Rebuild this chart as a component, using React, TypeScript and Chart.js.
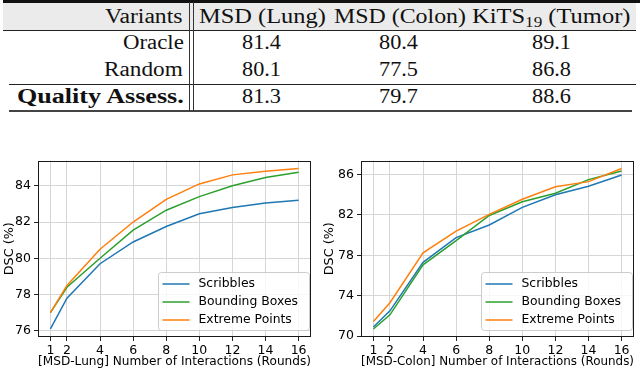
import React, { useEffect, useLayoutEffect, useRef } from 'react';
import { Chart, registerables } from 'chart.js';

Chart.register(...registerables);

// ---------- data ----------
const rounds = [1, 2, 4, 6, 8, 10, 12, 14, 16];
const xTicks = [1, 2, 4, 6, 8, 10, 12, 14, 16];
const seriesLabels = ['Scribbles', 'Bounding Boxes', 'Extreme Points'];
const seriesColors = ['#1f77b4', '#2ca02c', '#ff7f0e'];

const lungScribbles = [76.1, 77.8, 79.7, 80.9, 81.75, 82.45, 82.8, 83.05, 83.2];
const lungBoxes = [77.0, 78.4, 80.0, 81.55, 82.65, 83.4, 84.0, 84.45, 84.75];
const lungExtreme = [77.0, 78.5, 80.5, 82.0, 83.25, 84.1, 84.6, 84.8, 84.95];
const lungYTicks = [76, 78, 80, 82, 84];

const colonScribbles = [70.9, 72.5, 77.3, 79.75, 81.0, 82.75, 84.0, 84.85, 85.95];
const colonBoxes = [70.7, 72.1, 77.05, 79.45, 81.95, 83.3, 84.15, 85.5, 86.35];
const colonExtreme = [71.45, 73.3, 78.25, 80.4, 82.05, 83.55, 84.8, 85.3, 86.6];
const colonYTicks = [70, 74, 78, 82, 86];

const yTitle = 'DSC (%)';
const lungXTitle = '[MSD-Lung] Number of Interactions (Rounds)';
const colonXTitle = '[MSD-Colon] Number of Interactions (Rounds)';

const tableCorner = 'Variants';
const tableVariants = ['Oracle', 'Random', 'Quality Assess.'];
const oracleRow = [81.4, 80.4, 89.1];
const randomRow = [80.1, 77.5, 86.8];
const qualityRow = [81.3, 79.7, 88.6];

// ---------- helpers ----------
const SERIF = '"Liberation Serif", "Times New Roman", serif';
const SANS = '"DejaVu Sans", sans-serif';
const GRID = '#d6d6d6';
const TICK_SIZE = 12.5;
const TITLE_SIZE = 12.75;
const LEGEND_SIZE = 12.4;

function paddedRange(values: number[]) {
  const lo = Math.min(...values);
  const hi = Math.max(...values);
  const m = (hi - lo) * 0.05;
  return [lo - m, hi + m];
}

const framePlugin = {
  id: 'frame',
  afterDatasetsDraw(chart: any) {
    const { ctx, chartArea: a } = chart;
    const l = Math.round(a.left), t = Math.round(a.top);
    const r = Math.round(a.right), b = Math.round(a.bottom);
    ctx.save();
    ctx.strokeStyle = '#1a1a1a';
    ctx.lineWidth = 1;
    ctx.strokeRect(l + 0.5, t + 0.5, r - l - 1, b - t - 1);
    ctx.restore();
  },
};

const legendPlugin = {
  id: 'insideLegend',
  afterDraw(chart: any) {
    const { ctx, chartArea: a } = chart;
    const w = 151, h = 58;
    const x = a.right - 1.5 - w;
    const y = a.bottom - 6.5 - h;
    ctx.save();
    ctx.beginPath();
    const rad = 3;
    ctx.moveTo(x + rad, y);
    ctx.lineTo(x + w - rad, y);
    ctx.arcTo(x + w, y, x + w, y + rad, rad);
    ctx.lineTo(x + w, y + h - rad);
    ctx.arcTo(x + w, y + h, x + w - rad, y + h, rad);
    ctx.lineTo(x + rad, y + h);
    ctx.arcTo(x, y + h, x, y + h - rad, rad);
    ctx.lineTo(x, y + rad);
    ctx.arcTo(x, y, x + rad, y, rad);
    ctx.closePath();
    ctx.fillStyle = 'rgba(255,255,255,0.8)';
    ctx.fill();
    ctx.strokeStyle = '#cccccc';
    ctx.lineWidth = 1;
    ctx.stroke();
    chart.data.datasets.forEach((ds: any, i: number) => {
      const cy = y + 11.5 + i * 18;
      ctx.beginPath();
      ctx.strokeStyle = ds.borderColor;
      ctx.lineWidth = 1.5;
      ctx.moveTo(x + 4, cy);
      ctx.lineTo(x + 31, cy);
      ctx.stroke();
      ctx.fillStyle = '#000';
      ctx.font = `${LEGEND_SIZE}px ${SANS}`;
      ctx.textBaseline = 'middle';
      ctx.textAlign = 'left';
      ctx.fillText(ds.label, x + 40, cy);
    });
    ctx.restore();
  },
};

type Geom = { yW: number; padR: number; padT: number; xH: number };

function buildChart(
  canvas: HTMLCanvasElement,
  series: number[][],
  yTicks: number[],
  xTitle: string,
  g: Geom
) {
  const [xMin, xMax] = paddedRange(rounds);
  const [yMin, yMax] = paddedRange(series.flat());
  return new Chart(canvas, {
    type: 'line',
    data: {
      datasets: seriesLabels.map((label, i) => ({
        label,
        data: rounds.map((r, j) => ({ x: r, y: series[i][j] })),
        borderColor: seriesColors[i],
        backgroundColor: seriesColors[i],
        borderWidth: 1.5,
        pointRadius: 0,
        tension: 0,
        fill: false,
        order: 2 - i,
      })),
    },
    options: {
      responsive: false,
      animation: false,
      devicePixelRatio: 1,
      layout: { padding: { left: 0, right: g.padR, top: g.padT, bottom: 0 } },
      plugins: {
        legend: { display: false },
        tooltip: { enabled: false },
      },
      scales: {
        x: {
          type: 'linear',
          min: xMin,
          max: xMax,
          afterBuildTicks: (s: any) => {
            s.ticks = xTicks.map((v) => ({ value: v }));
          },
          afterFit: (s: any) => {
            s.height = g.xH;
          },
          grid: { color: GRID, lineWidth: 1, tickLength: 4, tickColor: '#222' },
          border: { display: false },
          ticks: {
            color: '#000',
            font: { family: SANS, size: TICK_SIZE },
            padding: 2,
            maxRotation: 0,
            autoSkip: false,
            callback: (v: any) => String(v),
          },
          title: {
            display: true,
            text: xTitle,
            color: '#000',
            font: { family: SANS, size: TITLE_SIZE },
            padding: { top: 2, bottom: 4 },
          },
        },
        y: {
          type: 'linear',
          min: yMin,
          max: yMax,
          afterBuildTicks: (s: any) => {
            s.ticks = yTicks.map((v) => ({ value: v }));
          },
          afterFit: (s: any) => {
            s.width = g.yW;
          },
          grid: { color: GRID, lineWidth: 1, tickLength: 4, tickColor: '#222' },
          border: { display: false },
          ticks: {
            color: '#000',
            font: { family: SANS, size: TICK_SIZE },
            padding: 3,
            callback: (v: any) => String(v),
          },
          title: {
            display: true,
            text: yTitle,
            color: '#000',
            font: { family: SANS, size: TITLE_SIZE },
            padding: { top: 2.5, bottom: 3 },
          },
        },
      },
    } as any,
    plugins: [framePlugin, legendPlugin],
  });
}

function FitText(props: {
  left: number;
  width: number;
  baseline: number;
  size?: number;
  bold?: boolean;
  children: React.ReactNode;
}) {
  const ref = useRef<HTMLDivElement>(null);
  const size = props.size ?? 20;
  useLayoutEffect(() => {
    const el = ref.current;
    if (!el) return;
    el.style.transform = 'none';
    const w = el.offsetWidth;
    if (w > 0) el.style.transform = `scaleX(${props.width / w})`;
  });
  return (
    <div
      ref={ref}
      style={{
        position: 'absolute',
        left: props.left,
        top: props.baseline - 0.8375 * size,
        fontFamily: SERIF,
        fontSize: size,
        lineHeight: `${size}px`,
        fontWeight: props.bold ? 700 : 400,
        whiteSpace: 'nowrap',
        transformOrigin: 'left top',
        color: '#111',
      }}
    >
      {props.children}
    </div>
  );
}

function Rule(props: { x: number; y: number; w: number; h: number; color?: string }) {
  return (
    <div
      style={{
        position: 'absolute',
        left: props.x,
        top: props.y,
        width: props.w,
        height: props.h,
        background: props.color ?? '#111',
      }}
    />
  );
}

const colCenters = [261.5, 398, 551.5];
const rowBaselines = [49, 75.5, 103];
const tableRows = [oracleRow, randomRow, qualityRow];

function Table() {
  return (
    <>
      <Rule x={3} y={2} w={633} h={29} color="#ebebeb" />
      <Rule x={3} y={0} w={637} h={2.5} color="#111" />
      <Rule x={3} y={30} w={633} h={1} color="#222" />
      <Rule x={9} y={84} w={627} h={1} color="#222" />
      <Rule x={9} y={110} w={623} h={2} color="#444" />
      <Rule x={189} y={2} w={1} h={109} color="#333" />
      <Rule x={193} y={2} w={1} h={109} color="#333" />

      <FitText left={105} width={78} baseline={23}>{tableCorner}</FitText>
      <FitText left={199} width={127} baseline={23}>MSD (Lung)</FitText>
      <FitText left={333.5} width={132.5} baseline={23}>MSD (Colon)</FitText>
      <FitText left={472} width={158} baseline={23}>
        KiTS
        <sub style={{ fontSize: 14, lineHeight: 0, verticalAlign: -4 }}>19</sub> (Tumor)
      </FitText>

      <FitText left={122.5} width={60.5} baseline={rowBaselines[0]}>{tableVariants[0]}</FitText>
      <FitText left={104} width={79} baseline={rowBaselines[1]}>{tableVariants[1]}</FitText>
      <FitText left={17} width={167} baseline={rowBaselines[2]} bold>{tableVariants[2]}</FitText>

      {tableRows.map((row, ri) =>
        row.map((v, ci) => (
          <FitText key={`${ri}-${ci}`} left={colCenters[ci] - 19.5} width={39} baseline={rowBaselines[ri]}>
            {v.toFixed(1)}
          </FitText>
        ))
      )}
    </>
  );
}

export default function App() {
  const leftRef = useRef<HTMLCanvasElement>(null);
  const rightRef = useRef<HTMLCanvasElement>(null);

  useEffect(() => {
    const c1 = buildChart(
      leftRef.current!,
      [lungScribbles, lungBoxes, lungExtreme],
      lungYTicks,
      lungXTitle,
      { yW: 38, padR: 9, padT: 8, xH: 36 }
    );
    const c2 = buildChart(
      rightRef.current!,
      [colonScribbles, colonBoxes, colonExtreme],
      colonYTicks,
      colonXTitle,
      { yW: 41, padR: 6, padT: 8, xH: 36 }
    );
    return () => {
      c1.destroy();
      c2.destroy();
    };
  }, []);

  return (
    <div
      style={{
        position: 'absolute',
        left: 0,
        top: 0,
        width: 640,
        height: 373,
        background: '#fff',
        overflow: 'hidden',
      }}
    >
      <Table />
      <canvas
        ref={leftRef}
        width={320}
        height={223}
        style={{ position: 'absolute', left: 0, top: 150, width: 320, height: 223 }}
      />
      <canvas
        ref={rightRef}
        width={320}
        height={223}
        style={{ position: 'absolute', left: 320, top: 150, width: 320, height: 223 }}
      />
    </div>
  );
}
